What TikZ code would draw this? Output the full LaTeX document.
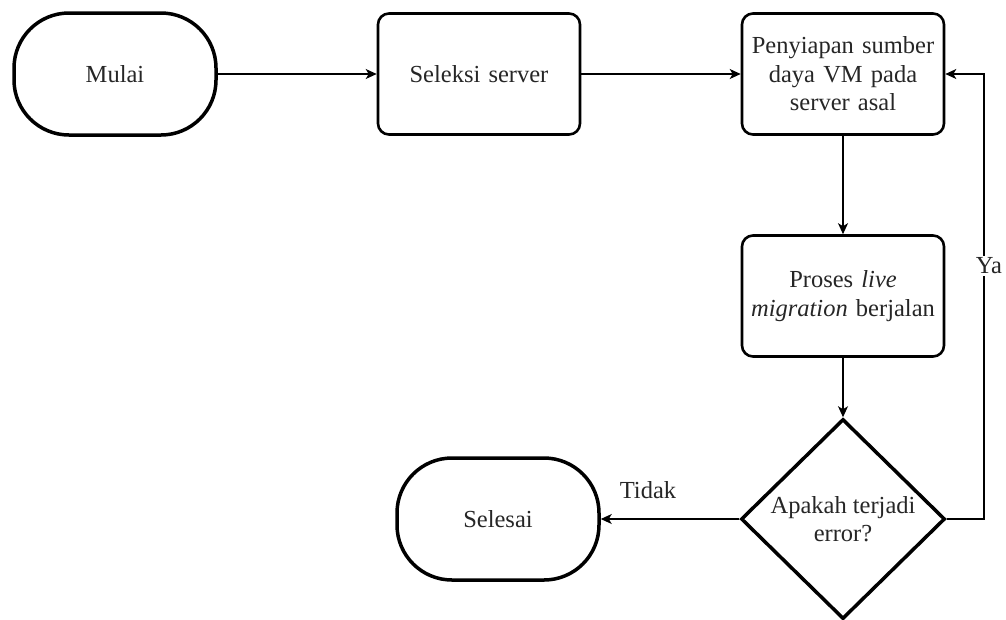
\documentclass[tikz,border=0pt]{standalone}
\usepackage{fontspec}
\setmainfont{Liberation Serif}
\usetikzlibrary{shapes.geometric,arrows.meta}
\begin{document}
\begin{tikzpicture}[x=1pt,y=-1pt,
  every node/.style={font=\fontsize{24.5}{28.5}\selectfont, text=black!85, align=center},
  term/.style={draw, line width=3.5pt, rounded corners=55pt, minimum width=202pt, minimum height=122pt, inner sep=0pt},
  proc/.style={draw, line width=2.6pt, rounded corners=11pt, minimum width=202pt, minimum height=121pt, inner sep=0pt, text width=200pt},
  decis/.style={draw, diamond, line width=3.5pt, minimum width=204pt, minimum height=200pt, inner sep=0pt, aspect=1},
  conn/.style={line width=1.3pt, -{Stealth[length=11pt,width=10pt,inset=3pt]}},
  lbl/.style={fill=white, inner sep=2pt}]
\useasboundingbox (0,0) rectangle (1006,619);
\node[term] (mulai) at (115,74) {Mulai};
\node[proc] (seleksi) at (479,74) {Seleksi server};
\node[proc] (siap) at (843,74) {Penyiapan sumber\\daya VM pada\\server asal};
\node[proc] (proses) at (843,296) {Proses \textit{live}\\\textit{migration} berjalan};
\node[decis] (dec) at (843,519) {Apakah terjadi\\error?};
\node[term] (selesai) at (498,519) {Selesai};
\coordinate (c1) at (984,519);
\coordinate (c2) at (984,74);
\draw[conn] (mulai) -- (seleksi);
\draw[conn] (seleksi) -- (siap);
\draw[conn] (siap) -- (proses);
\draw[conn] (proses) -- (dec);
\draw[conn] (dec.west) -- (selesai);
\draw[conn] (dec.east) -- (c1) -- (c2) -- (siap.east);
\node[lbl] (ya) at (989,266) {Ya};
\node (tidak) at (648,490) {Tidak};
\end{tikzpicture}
\end{document}
